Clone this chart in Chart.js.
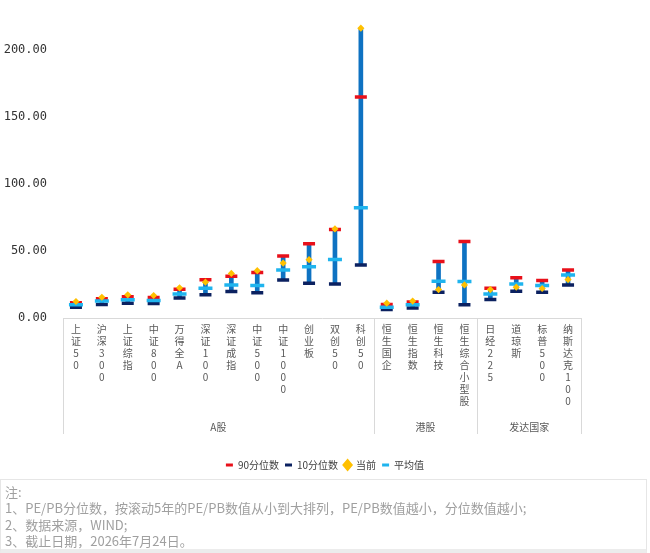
<!DOCTYPE html>
<html id="html">
<head>
<meta charset="utf-8">
<script src="https://cdn.jsdelivr.net/npm/chart.js@4"></script>
<style>
  body{margin:0;background:#fff;width:650px;height:553px;overflow:hidden;position:relative;font-family:"Noto Sans CJK SC","Noto Sans",sans-serif;}
  #wrap{position:absolute;left:0;top:0;width:650px;height:480px;}
  #notes{position:absolute;left:0;top:479px;width:647px;height:74px;border:1px solid #e6e6e6;border-bottom:4px solid #ececec;
    color:#a0a0a0;font-size:13px;line-height:16.4px;padding:4px 0 0 4px;box-sizing:border-box;}
</style>
</head>
<body>
<div id="wrap"><canvas id="myChart"></canvas></div>
<div id="notes">
  <div>注:</div>
  <div>1、PE/PB分位数，按滚动5年的PE/PB数值从小到大排列，PE/PB数值越小，分位数值越小;</div>
  <div>2、数据来源，WIND;</div>
  <div>3、截止日期，2026年7月24日。</div>
</div>
<script>
// categories
const names = ['上证50','沪深300','上证综指','中证800','万得全A','深证100','深证成指','中证500','中证1000','创业板','双创50','科创50',
  '恒生国企','恒生指数','恒生科技','恒生综合小型股','日经225','道琼斯','标普500','纳斯达克100']
// groups (name + how many categories)
const groupNames = ['A股','港股','发达国家']
const groupSizes = [12, 4, 4]

// series
const p90 = [11.3, 14.3, 15.8, 15.3, 21.5, 28.6, 31.1, 34.0, 46.2, 55.5, 66.0, 165.0, 10.1, 11.9, 42.2, 57.0, 22.2, 30.1, 27.9, 35.8]
const p10 = [8.1, 10.1, 11.1, 10.9, 15.0, 17.3, 19.8, 18.8, 28.4, 25.9, 25.4, 39.5, 6.4, 7.4, 19.3, 9.9, 13.8, 20.0, 19.3, 24.7]
const current = [12.3, 15.5, 17.3, 16.8, 22.5, 26.7, 33.3, 35.3, 41.0, 43.5, 66.5, 216.3, 11.1, 12.6, 21.2, 24.7, 21.2, 23.0, 22.0, 28.7]
const avg = [9.9, 12.6, 13.6, 13.1, 18.0, 22.2, 24.7, 24.2, 35.8, 38.3, 43.7, 82.2, 8.1, 9.9, 27.4, 27.2, 18.0, 25.4, 24.2, 32.1]

// y ticks
const yTicks = [0, 50, 100, 150, 200]

// high-low line = range of the four series
const hiLo = names.map((n, i) => {
  const v = [p90[i], p10[i], current[i], avg[i]]
  return [Math.min(...v), Math.max(...v)]
})

const groupPlugin = {
  id: 'groups',
  afterDraw(chart){
    const x = chart.scales.x
    const ctx = chart.ctx
    const half = (x.getPixelForValue(1) - x.getPixelForValue(0)) / 2
    const bottom = x.top + 116
    ctx.save()
    ctx.strokeStyle = '#d9d9d9'
    ctx.lineWidth = 1
    let start = 0
    const edges = [x.getPixelForValue(0) - half]
    groupSizes.forEach((n, g) => {
      const end = start + n - 1
      edges.push(x.getPixelForValue(end) + half)
      const cx = (x.getPixelForValue(start) + x.getPixelForValue(end)) / 2
      ctx.fillStyle = '#595959'
      ctx.font = '10px "Noto Sans CJK SC"'
      ctx.textAlign = 'center'
      ctx.textBaseline = 'middle'
      ctx.fillText(groupNames[g], cx, x.top + 109)
      start = end + 1
    })
    edges.forEach(px => {
      const p = Math.round(px) + 0.5
      ctx.beginPath()
      ctx.moveTo(p, x.top)
      ctx.lineTo(p, bottom)
      ctx.stroke()
    })
    ctx.restore()
  }
}

const legendItems = [
  {text:'90分位数', color:'#e8101a', style:'line'},
  {text:'10分位数', color:'#0b2160', style:'line'},
  {text:'当前', color:'#ffc000', style:'rectRot'},
  {text:'平均值', color:'#1fb4ee', style:'line'}
]

const ctx = document.getElementById('myChart')
new Chart(ctx, {
  data: {
    labels: names.map(n => Array.from(n)),
    datasets: [
      {type:'line', label:'90分位数', data:p90, showLine:false, pointStyle:'line', pointRadius:6, pointHoverRadius:6,
        pointBorderWidth:3.5, pointBorderColor:'#e8101a', pointBackgroundColor:'#e8101a', order:3},
      {type:'line', label:'10分位数', data:p10, showLine:false, pointStyle:'line', pointRadius:6, pointHoverRadius:6,
        pointBorderWidth:3.5, pointBorderColor:'#0b2160', pointBackgroundColor:'#0b2160', order:4},
      {type:'line', label:'当前', data:current, showLine:false, pointStyle:'rectRot', pointRadius:3.6, pointHoverRadius:3.6,
        pointBorderWidth:0, pointBorderColor:'#ffc000', pointBackgroundColor:'#ffc000', order:1},
      {type:'line', label:'平均值', data:avg, showLine:false, pointStyle:'line', pointRadius:7, pointHoverRadius:7,
        pointBorderWidth:3.5, pointBorderColor:'#1fb4ee', pointBackgroundColor:'#1fb4ee', order:2},
      {type:'bar', label:'hilo', data:hiLo, backgroundColor:'#0e72c2', barThickness:4, order:10}
    ]
  },
  options: {
    responsive: true,
    maintainAspectRatio: false,
    animation: false,
    layout: {padding:{top:19, right:0, left:0, bottom:0}},
    plugins: {
      tooltip: {enabled:false},
      legend: {
        position:'bottom',
        labels: {
          usePointStyle:true,
          boxHeight:6,
          pointStyleWidth:7,
          padding:6,
          color:'#404040',
          font:{size:10, family:'"Noto Sans CJK SC"'},
          generateLabels: () => legendItems.map((it, i) => ({
            text: it.text, fillStyle: it.color, strokeStyle: it.color, lineWidth: 3,
            pointStyle: it.style, hidden:false, datasetIndex:i, fontColor:'#404040'
          }))
        }
      }
    },
    scales: {
      x: {
        grid: {display:false, drawTicks:false},
        border: {display:true, color:'#d9d9d9', width:1},
        ticks: {
          autoSkip:false, maxRotation:0, minRotation:0, padding:5,
          color:'#595959',
          font:{size:10, family:'"Noto Sans CJK SC"', lineHeight:1.2}
        },
        afterFit(scale){ scale.height = 136 }
      },
      y: {
        min:0, max:220,
        grid: {display:false, drawTicks:false},
        border: {display:false},
        ticks: {
          stepSize:50, padding:16, color:'#333',
          font:{size:12, family:'"DejaVu Sans Mono"'},
          callback: v => Number(v).toFixed(2)
        },
        afterBuildTicks(scale){ scale.ticks = yTicks.map(v => ({value:v})) },
        afterFit(scale){ scale.width = 63 }
      },
      // empty right-hand gutter so the legend stays centred on the page
      gutter: {
        position:'right', display:true,
        grid:{display:false, drawTicks:false}, border:{display:false},
        ticks:{display:false},
        afterFit(scale){ scale.width = 69 }
      }
    }
  },
  plugins: [groupPlugin]
})
</script>
</body>
</html>
